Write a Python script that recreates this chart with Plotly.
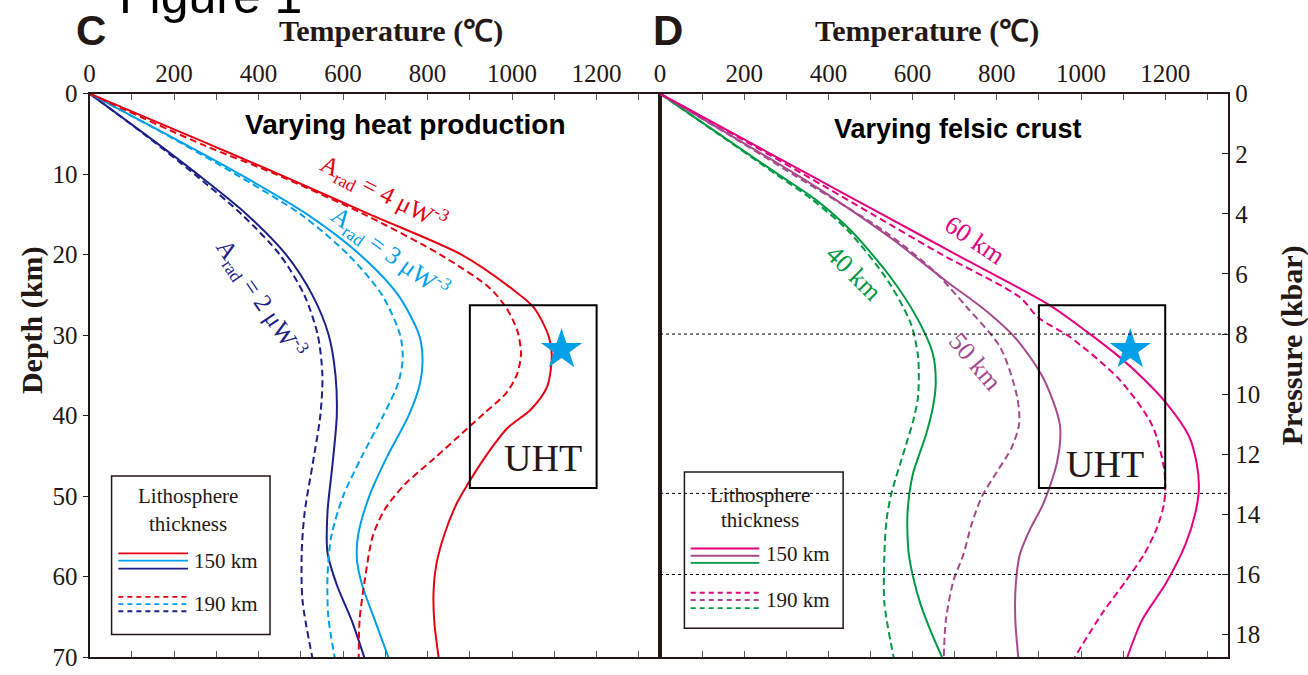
import plotly.graph_objects as go

# ---------------- data: temperature (°C) vs depth (km) ----------------
# Panel C: varying radiogenic heat production
red_solid_z = [0, 6, 10, 15, 20, 24.1, 26.6, 30.2, 32.5, 36.4, 39.2, 41.6, 45.3, 48.6, 51, 54.7, 58.4, 62, 65.7, 70]
red_solid_t = [0, 270, 448, 663, 880, 996, 1052, 1087, 1094, 1083, 1045, 988, 934, 894, 868, 840, 821, 814, 816, 826]
red_dash_z = [0, 6.4, 10, 15, 20, 24.1, 26.6, 29.4, 32.3, 34.8, 37.2, 39.7, 41.6, 45.3, 48.6, 51.7, 55, 60.5, 65.4, 70]
red_dash_t = [0, 270, 440, 650, 830, 946, 986, 1012, 1021, 1012, 986, 934, 894, 816, 745, 698, 670, 651, 639, 637]

cyan_solid_z = [0, 5, 10, 15, 20, 25, 30, 33, 36, 40, 45, 50, 55, 58, 61.2, 65.4, 70]
cyan_solid_t = [0, 180, 355, 515, 640, 730, 780, 788, 782, 755, 705, 662, 635, 633, 646, 675, 707]
cyan_dash_z = [0, 5, 10, 15, 20, 25, 30, 33, 36, 40, 45, 50, 55, 60, 65, 70]
cyan_dash_t = [0, 178, 345, 500, 612, 692, 735, 741, 730, 695, 645, 600, 572, 563, 565, 580]

navy_solid_z = [0, 5, 10, 15, 20, 25, 30, 35, 40, 46, 52, 57, 61, 65.4, 70]
navy_solid_t = [0, 130, 255, 372, 465, 527, 566, 582, 585, 575, 563, 563, 585, 620, 650]
navy_dash_z = [0, 5, 10, 15, 20, 25, 30, 35, 40, 46, 52, 57, 63, 70]
navy_dash_t = [0, 128, 248, 360, 450, 508, 540, 551, 546, 528, 509, 502, 504, 527]

# Panel D: varying felsic crust thickness
mag_solid_z = [0, 5, 10, 15, 20, 26.3, 29.5, 32.7, 35.5, 38.4, 42.5, 46, 49, 52, 56, 60.8, 65.4, 70]
mag_solid_t = [0, 176, 352, 528, 704, 926, 1012, 1091, 1150, 1202, 1256, 1275, 1280, 1272, 1248, 1202, 1145, 1110]
mag_dash_z = [0, 5, 10, 15, 20, 25.3, 27.8, 30.2, 35.5, 41.2, 46.5, 49, 51, 54, 57.2, 60.5, 64.5, 70]
mag_dash_t = [0, 172, 340, 505, 670, 855, 898, 973, 1091, 1169, 1197, 1200, 1197, 1180, 1150, 1107, 1051, 985]

pur_solid_z = [0, 5, 10, 13.1, 18, 23.3, 27, 30.4, 35.3, 41.2, 45.8, 51, 54, 57.2, 61, 65.4, 70]
pur_solid_t = [0, 162, 322, 415, 550, 680, 775, 845, 910, 950, 943, 910, 880, 855, 845, 844, 851]
pur_dash_z = [0, 5, 10, 17.1, 22, 26.6, 31.5, 37.6, 41, 44, 47, 50, 53.5, 57.2, 60.5, 65.4, 70]
pur_dash_t = [0, 160, 315, 533, 650, 730, 808, 848, 853, 835, 800, 765, 740, 721, 697, 679, 674]

grn_solid_z = [0, 5, 10, 13.1, 17.1, 22.9, 28.1, 32.3, 36, 39, 42.5, 47.4, 52, 55, 57.2, 60, 63.6, 67, 70]
grn_solid_t = [0, 140, 280, 368, 455, 549, 613, 648, 655, 648, 631, 600, 588, 588, 591, 601, 620, 645, 670]
grn_dash_z = [0, 5, 10, 13.1, 17.1, 23.3, 28.6, 32.7, 37.6, 40.5, 43.7, 49.8, 53, 57.2, 63.3, 70]
grn_dash_t = [0, 138, 275, 360, 448, 542, 596, 613, 613, 602, 584, 549, 538, 533, 533, 555]

# UHT field and sample P-T estimate
uht_t = [900, 1200]
uht_z = [26.3, 49.0]
sample_t = [1117]
sample_z = [31.8]

# pressure reference levels (kbar)
pressure_levels = [8, 13.3, 16]

# axes
temp_ticks = list(range(0, 1301, 100))
temp_labels = [str(v) if v % 200 == 0 else "" for v in temp_ticks]
depth_ticks = list(range(0, 71, 10))
pressure_ticks = list(range(0, 19, 2))

# ---------------- style ----------------
W, H = 1308, 675
RED, CYAN, NAVY = "#E60012", "#00A0E9", "#1D2088"
MAG, PUR, GRN = "#E4007F", "#A64A8D", "#009944"
INK = "#231815"
SERIF = "Liberation Serif, Times New Roman, serif"
SANS = "Liberation Sans, Arial, sans-serif"
DASH = "7px,4px"


def px(x):
    return x / W


def py(y):
    return 1 - y / H


x_left, x_mid, x_right = 84, 657, 1228
y_top, y_bot = 84, 671

fig = go.Figure()


def curve(t, z, color, dash, xa, ya):
    fig.add_trace(go.Scatter(
        x=t, y=z, mode="lines", xaxis=xa, yaxis=ya, showlegend=False,
        line=dict(color=color, width=2, dash=dash, shape="spline", smoothing=0.8),
        hoverinfo="skip"))


for t, z, c, d in [
    (navy_dash_t, navy_dash_z, NAVY, DASH), (navy_solid_t, navy_solid_z, NAVY, "solid"),
    (cyan_dash_t, cyan_dash_z, CYAN, DASH), (cyan_solid_t, cyan_solid_z, CYAN, "solid"),
    (red_dash_t, red_dash_z, RED, DASH), (red_solid_t, red_solid_z, RED, "solid"),
]:
    curve(t, z, c, d, "x", "y")

for t, z, c, d in [
    (grn_dash_t, grn_dash_z, GRN, DASH), (grn_solid_t, grn_solid_z, GRN, "solid"),
    (pur_dash_t, pur_dash_z, PUR, DASH), (pur_solid_t, pur_solid_z, PUR, "solid"),
    (mag_dash_t, mag_dash_z, MAG, DASH), (mag_solid_t, mag_solid_z, MAG, "solid"),
]:
    curve(t, z, c, d, "x2", "y2")

# dotted pressure guides on the right panel (pressure axis)
for p in pressure_levels:
    fig.add_trace(go.Scatter(
        x=[0, 1350], y=[p, p], mode="lines", xaxis="x2", yaxis="y3", showlegend=False,
        line=dict(color="black", width=1, dash="dot"), hoverinfo="skip"))

# sample stars
for xa, ya in [("x", "y"), ("x2", "y2")]:
    fig.add_trace(go.Scatter(
        x=sample_t, y=sample_z, mode="markers", xaxis=xa, yaxis=ya, showlegend=False,
        marker=dict(symbol="star", size=31, color=CYAN, line=dict(width=0)),
        hoverinfo="skip"))

shapes = []
annotations = []

# UHT boxes
for xr, yr in [("x", "y"), ("x2", "y2")]:
    shapes.append(dict(type="rect", xref=xr, yref=yr, x0=uht_t[0], x1=uht_t[1],
                       y0=uht_z[0], y1=uht_z[1], line=dict(color="black", width=2),
                       layer="above"))


def text(xr, yr, x, y, s, size, color=INK, family=SERIF, angle=0, xanchor="center"):
    annotations.append(dict(xref=xr, yref=yr, x=x, y=y, text=s, textangle=angle,
                            xanchor=xanchor, yanchor="middle", showarrow=False,
                            font=dict(family=family, size=size, color=color)))


# legend boxes (data coordinates of each panel)
def legend(xr, yr, box, lines_solid, lines_dash, colors, title_xy, lab_x, lab_z):
    shapes.append(dict(type="rect", xref=xr, yref=yr, x0=box[0], x1=box[1],
                       y0=box[2], y1=box[3], line=dict(color=INK, width=1.5)))
    for (x0, x1, zz), c in zip(lines_solid, colors):
        shapes.append(dict(type="line", xref=xr, yref=yr, x0=x0, x1=x1, y0=zz, y1=zz,
                           line=dict(color=c, width=1.8)))
    for (x0, x1, zz), c in zip(lines_dash, colors):
        shapes.append(dict(type="line", xref=xr, yref=yr, x0=x0, x1=x1, y0=zz, y1=zz,
                           line=dict(color=c, width=1.8, dash="5px,4px")))
    text(xr, yr, title_xy[0], title_xy[1], "Lithosphere", 21)
    text(xr, yr, title_xy[0], title_xy[2], "thickness", 21)
    text(xr, yr, lab_x, lab_z[0], "150 km", 21, xanchor="left")
    text(xr, yr, lab_x, lab_z[1], "190 km", 21, xanchor="left")


legend("x", "y", (52, 427, 47.5, 67.2),
       [(68, 233, 57.1), (68, 233, 58.0), (68, 233, 59.0)],
       [(68, 233, 62.5), (68, 233, 63.4), (68, 233, 64.3)],
       [RED, CYAN, NAVY], (233, 50.0, 53.5), 243, (58.0, 63.4))
legend("x2", "y2", (58, 435, 47.0, 66.4),
       [(73, 236, 56.5), (73, 236, 57.4), (73, 236, 58.3)],
       [(73, 236, 62.0), (73, 236, 62.9), (73, 236, 63.9)],
       [MAG, PUR, GRN], (238, 49.8, 53.0), 248, (57.2, 62.9))

# curve labels
text("x", "y", 697, 12.3, "A<sub>rad</sub> = 4 μW<sup>-3</sup>", 25, RED, angle=27)
text("x", "y", 712, 19.8, "A<sub>rad</sub> = 3 μW<sup>-3</sup>", 25, CYAN, angle=36)
text("x", "y", 405, 25.5, "A<sub>rad</sub> = 2 μW<sup>-3</sup>", 25, NAVY, angle=56)
text("x2", "y2", 749, 18.2, "60 km", 26, MAG, angle=34)
text("x2", "y2", 462, 22.3, "40 km", 26, GRN, angle=45)
text("x2", "y2", 748, 33.3, "50 km", 26, PUR, angle=50)

text("x", "y", 747, 3.8, "<b>Varying heat production</b>", 28, "black", SANS)
text("x2", "y2", 709, 4.4, "<b>Varying felsic crust</b>", 27, "black", SANS)
text("x", "y", 1074, 45.3, "UHT", 38)
text("x2", "y2", 1056, 46.0, "UHT", 38)

# panel letters, titles
text("paper", "paper", px(112), py(-18), "Figure 1", 50, "black", SANS, xanchor="left")
text("paper", "paper", px(85), py(18), "<b>C</b>", 42, INK, SANS)
text("paper", "paper", px(665), py(18), "<b>D</b>", 42, INK, SANS)
text("paper", "paper", px(387), py(19), "<b>Temperature (℃)</b>", 30)
text("paper", "paper", px(925), py(19), "<b>Temperature (℃)</b>", 30)
text("paper", "paper", px(26), py(320), "<b>Depth (km)</b>", 30, angle=-90)
text("paper", "paper", px(1292), py(346), "<b>Pressure (kbar)</b>", 30, angle=-90)

tickfont = dict(family=SERIF, size=25, color=INK)
xcommon = dict(range=[0, 1350], side="top", tickvals=temp_ticks, ticktext=temp_labels,
               ticks="inside", ticklen=6, tickwidth=1.2, tickcolor="#555",
               showline=True, linewidth=2, linecolor=INK, mirror="ticks",
               showgrid=False, zeroline=False, tickfont=tickfont,
               ticklabeloverflow="allow")
ydom = [py(y_bot), py(y_top)]

fig.update_layout(
    width=W, height=H, margin=dict(l=0, r=0, t=0, b=0),
    paper_bgcolor="white", plot_bgcolor="rgba(0,0,0,0)",
    xaxis=dict(domain=[px(x_left), px(x_mid)], anchor="y", **xcommon),
    xaxis2=dict(domain=[px(x_mid), px(x_right)], anchor="y2", **xcommon),
    yaxis=dict(domain=ydom, anchor="x", range=[70, 0], tickvals=depth_ticks,
               ticks="outside", ticklen=5, tickwidth=1.2, tickcolor=INK,
               showline=True, linewidth=2, linecolor=INK, mirror=True,
               showgrid=False, zeroline=False, tickfont=tickfont,
               ticklabeloverflow="allow"),
    yaxis2=dict(domain=ydom, anchor="x2", range=[70, 0], showticklabels=False, ticks="",
                showline=True, linewidth=2, linecolor=INK, mirror=True,
                showgrid=False, zeroline=False),
    yaxis3=dict(overlaying="y2", anchor="x2", side="right", range=[18.75, 0],
                tickvals=pressure_ticks, ticks="inside", ticklen=6, tickwidth=1.2,
                tickcolor=INK, showline=True, linewidth=2, linecolor=INK,
                showgrid=False, zeroline=False, tickfont=tickfont,
                ticklabeloverflow="allow"),
    shapes=shapes, annotations=annotations, showlegend=False,
)

# page body without default margin so the figure fills the window exactly
fig.write_html("out.html", post_script="document.body.style.margin='0';"
                                        "document.body.style.overflow='hidden';")
